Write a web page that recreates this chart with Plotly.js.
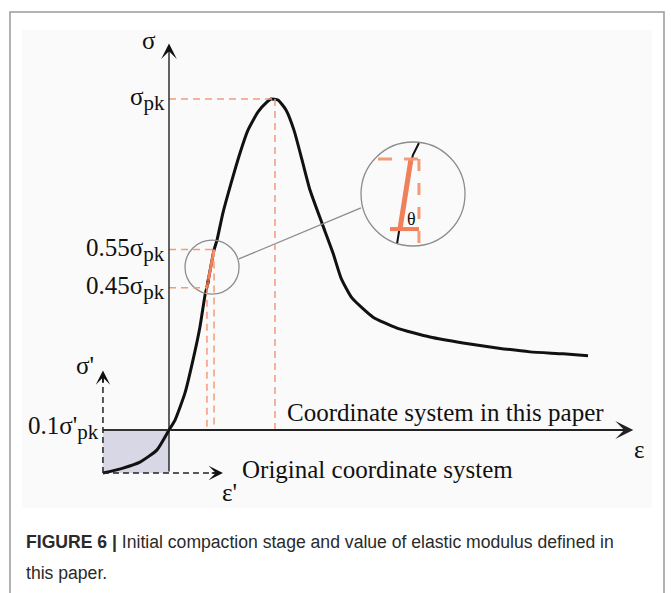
<!DOCTYPE html>
<html>
<head>
<meta charset="utf-8">
<script src="https://cdn.plot.ly/plotly-3.0.1.min.js"></script>
<style>html,body{margin:0;padding:0;background:#fff;}#chart{width:671px;height:593px;}</style>
</head>
<body>
<div id="chart"></div>
<script>
// ---- data (strain normalised by peak strain, stress normalised by peak stress) ----
const strain = [-0.623,-0.434,-0.274,-0.113,0,0.057,0.151,0.226,0.292,0.340,0.358,0.425,0.453,0.509,0.594,0.670,0.745,0.840,0.925,0.962,1.028,1.104,1.179,1.255,1.330,1.443,1.547,1.623,1.726,1.925,2.151,2.462,2.774,3.094,3.406,3.717,3.953];
const stress = [-0.130,-0.115,-0.097,-0.060,0,0.030,0.112,0.211,0.311,0.408,0.432,0.544,0.574,0.656,0.755,0.837,0.906,0.961,0.991,1.000,0.997,0.967,0.906,0.816,0.725,0.625,0.535,0.459,0.399,0.341,0.308,0.281,0.263,0.248,0.236,0.230,0.224];

// reference levels (as drawn)
const PK = '<sub><span style="font-size:21px">pk</span></sub>';
const levelLabels = ["σ" + PK, "0.55σ" + PK, "0.45σ" + PK];
const levelStress = [1.0, 0.545, 0.43];
const levelStrain = [1.0, 0.425, 0.358];

// original coordinate system origin
const origin0 = {eps: -0.623, sig: -0.130};
const axisTips = {sig: 1.168, eps: 4.38, sigP: 0.18, epsP: 0.509};

// zoom circles: [eps, sig, radius px]
const smallCircle = [0.406, 0.492, 27];
const bigCircle = [2.302, 0.713, 52];
const connector = {eps: [0.660, 1.811], sig: [0.517, 0.671]};
// magnified detail inside big circle
const magTangent = {eps: [2.179, 2.283], sig: [0.607, 0.819]};
const magCurve = {eps: [2.151, 2.200, 2.260, 2.300, 2.358], sig: [0.562, 0.660, 0.760, 0.830, 0.867]};
const magTop = {eps: [1.972, 2.368], sig: 0.819};
const magBottom = {eps: [2.085, 2.358], sig: 0.607};
const magVert = {eps: 2.358, sig: [0.819, 0.559]};

const ORANGE = '#f39b78', ORANGE2 = '#f07f5a', GREY = '#8c8c8c';
const SERIF = '"Liberation Serif", "Times New Roman", serif';

const px = 1/106, py = 1/331; // axis scale (origin at pixel 169,430)
const xr = [-169*px, (671-169)*px];
const yr = [(430-593)*py, 430*py];

const traces = [
  {x: magCurve.eps, y: magCurve.sig, mode:'lines', line:{color:'#111', width:2}, hoverinfo:'skip'},
  {x: strain, y: stress, mode:'lines', line:{color:'#111', width:3, shape:'spline', smoothing:0.5}, hoverinfo:'skip'},
  {x: [levelStrain[2], levelStrain[1]], y: [levelStress[2], levelStress[1]], mode:'lines', line:{color:ORANGE2, width:3}, hoverinfo:'skip'},
  {x: magTangent.eps, y: magTangent.sig, mode:'lines', line:{color:ORANGE2, width:5}, hoverinfo:'skip'},
  {x: magBottom.eps, y: [magBottom.sig, magBottom.sig], mode:'lines', line:{color:ORANGE2, width:4}, hoverinfo:'skip'}
];

const shapes = [
  {type:'rect', xref:'paper', yref:'paper', x0:22/671, x1:652/671, y0:1-508/593, y1:1-30/593, fillcolor:'#fafafa', line:{width:0}, layer:'below'},
  {type:'rect', xref:'paper', yref:'paper', x0:10/671, x1:664/671, y0:-0.1, y1:1-12/593, line:{color:'#9a9a9a', width:1.5}, layer:'below'},
  {type:'rect', x0:origin0.eps, x1:0, y0:origin0.sig, y1:0, fillcolor:'#d7d7e6', line:{width:0}, layer:'below'},
  {type:'line', x0:origin0.eps, x1:0, y0:0, y1:0, line:{color:'#333', width:2}},
  {type:'line', x0:origin0.eps, x1:origin0.eps, y0:origin0.sig, y1:axisTips.sigP-0.02, line:{color:'#222', width:1.5, dash:'6px,4px'}},
  {type:'line', x0:origin0.eps, x1:axisTips.epsP-0.05, y0:origin0.sig, y1:origin0.sig, line:{color:'#222', width:1.5, dash:'6px,4px'}},
  {type:'circle', xsizemode:'pixel', ysizemode:'pixel', xanchor:smallCircle[0], yanchor:smallCircle[1], x0:-smallCircle[2], x1:smallCircle[2], y0:-smallCircle[2], y1:smallCircle[2], line:{color:GREY, width:1.3}},
  {type:'circle', xsizemode:'pixel', ysizemode:'pixel', xanchor:bigCircle[0], yanchor:bigCircle[1], x0:-bigCircle[2], x1:bigCircle[2], y0:-bigCircle[2], y1:bigCircle[2], line:{color:GREY, width:1.3}},
  {type:'line', x0:connector.eps[0], x1:connector.eps[1], y0:connector.sig[0], y1:connector.sig[1], line:{color:GREY, width:1.3}},
  {type:'line', x0:magTop.eps[0], x1:magTop.eps[1], y0:magTop.sig, y1:magTop.sig, line:{color:ORANGE, width:3, dash:'14px,12px'}},
  {type:'line', x0:magVert.eps, x1:magVert.eps, y0:magVert.sig[0], y1:magVert.sig[1], line:{color:ORANGE, width:3, dash:'12px,12px'}}
];
levelStress.forEach((s,i)=>{
  shapes.push({type:'line', x0:0, x1:levelStrain[i], y0:s, y1:s, line:{color:ORANGE, width:1.5, dash:'7px,5px'}});
  shapes.push({type:'line', x0:levelStrain[i], x1:levelStrain[i], y0:s, y1:0, line:{color:ORANGE, width:1.5, dash:'7px,5px'}});
});

const tfont = {family:SERIF, size:25, color:'#111'};
const ann = [];
ann.push({xref:'x', yref:'y', axref:'x', ayref:'y', x:0, y:axisTips.sig, ax:0, ay:origin0.sig, text:'', showarrow:true, arrowhead:3, arrowsize:2, arrowwidth:1.3, arrowcolor:'#111', standoff:0, startstandoff:0});
ann.push({xref:'x', yref:'y', axref:'x', ayref:'y', x:axisTips.eps, y:0, ax:0, ay:0, text:'', showarrow:true, arrowhead:3, arrowsize:1.5, arrowwidth:2, arrowcolor:'#222', standoff:0, startstandoff:0});
ann.push({xref:'x', yref:'y', axref:'x', ayref:'y', x:origin0.eps, y:axisTips.sigP, ax:origin0.eps, ay:axisTips.sigP-0.04, text:'', showarrow:true, arrowhead:3, arrowsize:1.5, arrowwidth:1.6, arrowcolor:'#111', standoff:0, startstandoff:0});
ann.push({xref:'x', yref:'y', axref:'x', ayref:'y', x:axisTips.epsP, y:origin0.sig, ax:axisTips.epsP-0.12, ay:origin0.sig, text:'', showarrow:true, arrowhead:3, arrowsize:1.5, arrowwidth:1.6, arrowcolor:'#111', standoff:0, startstandoff:0});
ann.push({xref:'x', yref:'y', x:-0.19, y:1.178, text:'σ', showarrow:false, font:tfont});
levelStress.forEach((s,i)=>{
  ann.push({xref:'x', yref:'y', x:-0.02, y:s, xanchor:'right', yanchor:'middle', text:levelLabels[i], showarrow:false, font:tfont});
});
ann.push({xref:'x', yref:'y', x:-0.64, y:0.005, xanchor:'right', yanchor:'middle', text:"0.1σ'" + PK, showarrow:false, font:tfont});
ann.push({xref:'x', yref:'y', x:-0.79, y:0.195, text:"σ'", showarrow:false, font:tfont});
ann.push({xref:'x', yref:'y', x:1.094, y:0.053, xanchor:'left', text:'Coordinate system in this paper', showarrow:false, font:tfont});
ann.push({xref:'x', yref:'y', x:4.443, y:-0.06, text:'ε', showarrow:false, font:tfont});
ann.push({xref:'x', yref:'y', x:0.67, y:-0.118, xanchor:'left', text:'Original coordinate system', showarrow:false, font:tfont});
ann.push({xref:'x', yref:'y', x:0.575, y:-0.19, text:"ε'", showarrow:false, font:tfont});
ann.push({xref:'x', yref:'y', x:2.292, y:0.637, text:'θ', showarrow:false, font:{family:SERIF, size:18, color:'#111'}});
ann.push({xref:'x', yref:'y', x:0.365, y:0.445, text:'θ', showarrow:false, font:{family:SERIF, size:8, color:'#444'}});
const capFont = {family:'"Liberation Sans", Arial, sans-serif', size:17.6, color:'#2a2a2a'};
ann.push({xref:'paper', yref:'paper', x:24/671, y:1-542/593, xanchor:'left', yanchor:'middle', text:'<b>FIGURE 6 |</b> Initial compaction stage and value of elastic modulus defined in', showarrow:false, font:capFont});
ann.push({xref:'paper', yref:'paper', x:24/671, y:1-573/593, xanchor:'left', yanchor:'middle', text:'this paper.', showarrow:false, font:capFont});

const layout = {
  width:671, height:593, margin:{l:0,r:0,t:0,b:0},
  paper_bgcolor:'#ffffff', plot_bgcolor:'rgba(0,0,0,0)',
  showlegend:false,
  xaxis:{range:xr, visible:false, fixedrange:true},
  yaxis:{range:yr, visible:false, fixedrange:true},
  shapes:shapes, annotations:ann
};
Plotly.newPlot('chart', traces, layout, {displayModeBar:false, staticPlot:true});
</script>
</body>
</html>
